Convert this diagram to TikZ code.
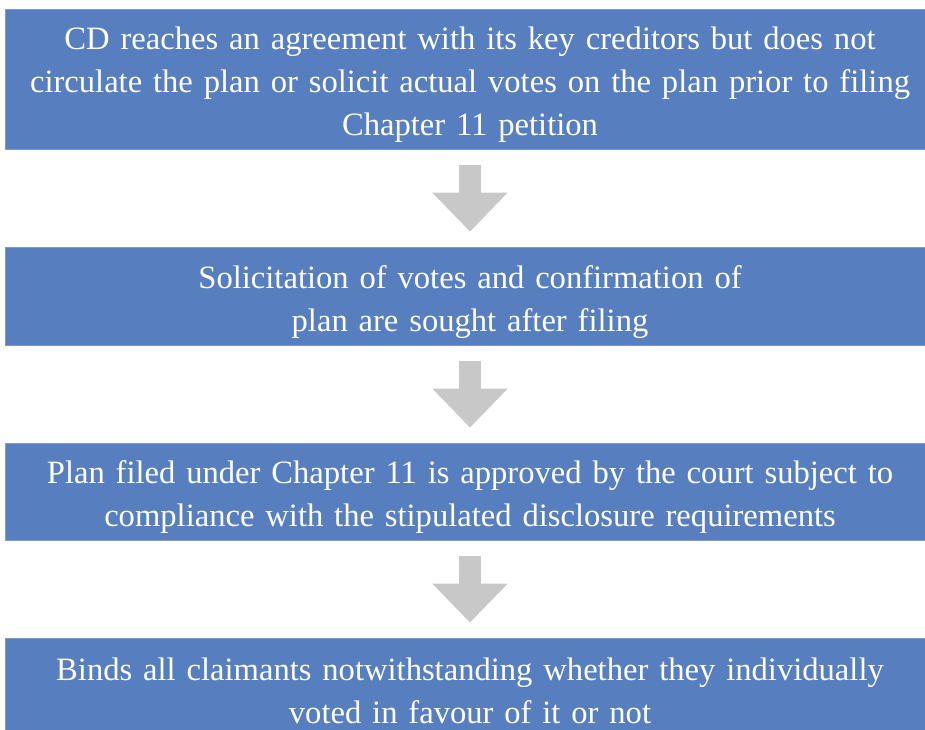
\documentclass[tikz,border=0pt]{standalone}
\usepackage{fontspec}
\setmainfont{Liberation Serif}
\usetikzlibrary{arrows.meta}
\definecolor{boxblue}{HTML}{577EBE}
\definecolor{boxedge}{HTML}{7B9AD0}
\definecolor{arrowgray}{HTML}{C8C8C8}
\tikzset{
  stage/.style={rectangle, fill=boxblue, draw=boxedge, line width=0.8pt,
    minimum width=930pt, inner sep=0pt},
  stagetext/.style={inner sep=0pt, text width=920pt, align=center,
    text=white, font=\fontsize{32.6}{43}\selectfont},
  flow/.style={draw=arrowgray, line width=22pt,
    -{Triangle[width=73pt, length=39pt, fill=arrowgray]},
    shorten <=16pt, shorten >=15pt}
}
\begin{document}
\begin{tikzpicture}[x=1pt, y=1pt]
  \useasboundingbox (0,0) rectangle (925,-729);
  % stage boxes
  \node[stage, minimum height=140pt] (s1) at (470,-79) {};
  \node[stage, minimum height=98pt] (s2) at (470,-296) {};
  \node[stage, minimum height=97pt] (s3) at (470,-491.5) {};
  \node[stage, minimum height=98pt] (s4) at (470,-687) {};
  % stage texts
  \node[stagetext] (t1) at ([yshift=-6pt]s1.center)
    {CD reaches an agreement with its key creditors but does not\\
     circulate the plan or solicit actual votes on the plan prior to filing\\
     Chapter 11 petition};
  \node[stagetext] (t2) at ([yshift=-6pt]s2.center)
    {Solicitation of votes and confirmation of\\ plan are sought after filing};
  \node[stagetext] (t3) at ([yshift=-5pt]s3.center)
    {Plan filed under Chapter 11 is approved by the court subject to\\
     compliance with the stipulated disclosure requirements};
  \node[stagetext] (t4) at ([yshift=-4pt]s4.center)
    {Binds all claimants notwithstanding whether they individually\\
     voted in favour of it or not};
  % flow arrows
  \draw[flow] (s1) -- (s2);
  \draw[flow] (s2) -- (s3);
  \draw[flow] (s3) -- (s4);
\end{tikzpicture}
\end{document}
